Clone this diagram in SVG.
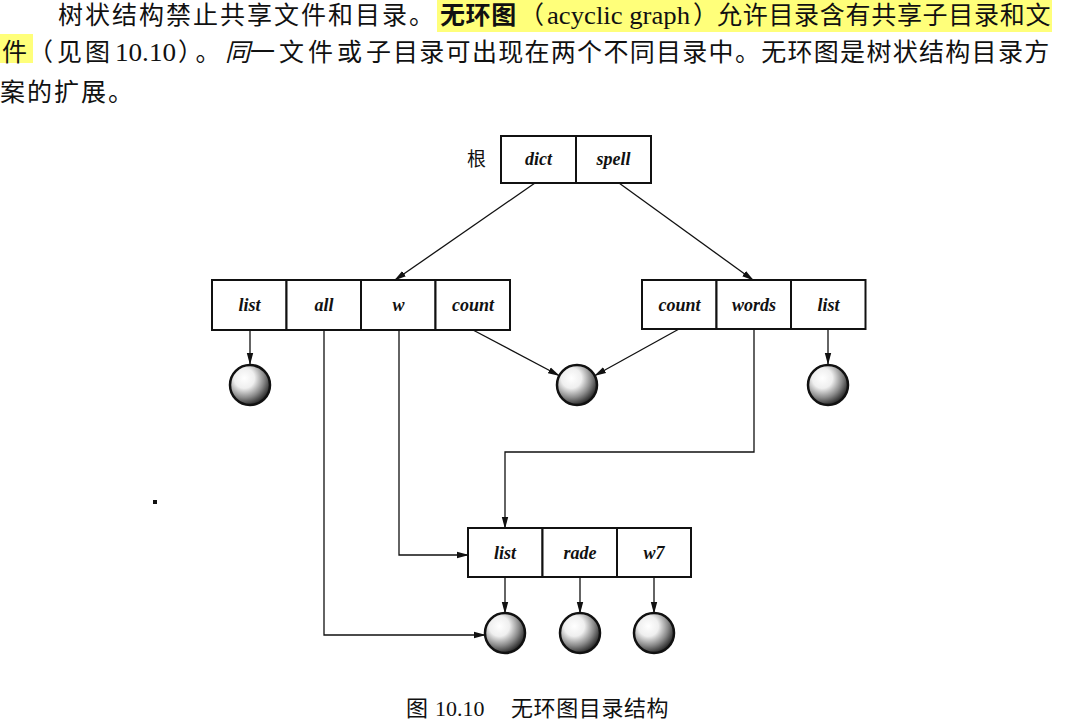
<svg xmlns="http://www.w3.org/2000/svg" width="1090" height="727" viewBox="0 0 1090 727">
<style>
.cjk{font-family:"Noto Sans CJK SC","Noto Sans",sans-serif;fill:#111}
.p{font-size:25px}
.ser{font-family:"Liberation Serif","Noto Sans CJK SC",serif;fill:#111}
.cell{fill:#fff;stroke:#111;stroke-width:2}
.lbl{font-family:"Liberation Serif",serif;font-style:italic;font-weight:bold;font-size:18px;text-anchor:middle;fill:#111}
.ln{fill:none;stroke:#111;stroke-width:1.3}
.ball{fill:url(#sph);stroke:#111;stroke-width:2.5}
.hl{fill:#ffff7a}
</style>
<defs>
<radialGradient id="sph" cx="0.36" cy="0.33" r="0.72">
<stop offset="0" stop-color="#ffffff"/>
<stop offset="0.35" stop-color="#efefef"/>
<stop offset="0.68" stop-color="#8a8a8a"/>
<stop offset="1" stop-color="#1a1a1a"/>
</radialGradient>
<marker id="ah" markerUnits="userSpaceOnUse" markerWidth="12" markerHeight="8" refX="11" refY="4" orient="auto">
<path d="M0,0.8 L12,4 L0,7.2 Z" fill="#111"/>
</marker>
</defs>
<rect width="1090" height="727" fill="#fff"/>

<g id="paragraph">
<rect class="hl" x="437" y="0" width="615" height="32"/>
<rect class="hl" x="0" y="34" width="33" height="29"/>
<text class="cjk p" x="58" y="24" letter-spacing="2">树状结构禁止共享文件和目录。</text>
<text class="cjk p" x="440" y="24" letter-spacing="0.6" font-weight="bold">无环图</text>
<text class="cjk p" x="519" y="24">（</text>
<text class="ser" x="547" y="24" font-size="26" textLength="143" lengthAdjust="spacingAndGlyphs">acyclic graph</text>
<text class="cjk p" x="693" y="24">）</text>
<text class="cjk p" x="717" y="24" letter-spacing="0.7">允许目录含有共享子目录和文</text>

<text class="cjk p" x="2" y="61">件</text>
<text class="cjk p" x="28" y="61">（</text>
<text class="cjk p" x="57" y="61" letter-spacing="3">见图</text>
<text class="ser" x="115" y="61" font-size="26" textLength="61" lengthAdjust="spacingAndGlyphs">10.10</text>
<text class="cjk p" x="178" y="61" letter-spacing="5">）。</text>
<text class="cjk p" x="225" y="61" font-style="italic">同</text>
<text class="cjk p" x="250" y="61" letter-spacing="4">一文件或子</text>
<text class="cjk p" x="393" y="61" letter-spacing="1.3">目录可出现在两个不同目录中。无环图是树状结构目录方</text>

<text class="cjk p" x="0" y="101" letter-spacing="2">案的扩展。</text>
</g>

<g id="root">
<text class="cjk" x="467" y="166" font-size="19">根</text>
<rect class="cell" x="501" y="136" width="75" height="47"/>
<rect class="cell" x="576" y="136" width="75" height="47"/>
<text class="lbl" x="538.5" y="165">dict</text>
<text class="lbl" x="613.5" y="165">spell</text>
</g>

<g id="dict">
<rect class="cell" x="212" y="280" width="74.5" height="50"/>
<rect class="cell" x="286.5" y="280" width="74.5" height="50"/>
<rect class="cell" x="361" y="280" width="74.5" height="50"/>
<rect class="cell" x="435.5" y="280" width="74.5" height="50"/>
<text class="lbl" x="249.5" y="311">list</text>
<text class="lbl" x="324" y="311">all</text>
<text class="lbl" x="398.5" y="311">w</text>
<text class="lbl" x="473" y="311">count</text>
</g>

<g id="spell">
<rect class="cell" x="642" y="280" width="74.5" height="49"/>
<rect class="cell" x="716.5" y="280" width="74.5" height="49"/>
<rect class="cell" x="791" y="280" width="74.5" height="49"/>
<text class="lbl" x="679.5" y="311">count</text>
<text class="lbl" x="754" y="311">words</text>
<text class="lbl" x="828.5" y="311">list</text>
</g>

<g id="shared">
<rect class="cell" x="468" y="528" width="74.5" height="49"/>
<rect class="cell" x="542.5" y="528" width="74.5" height="49"/>
<rect class="cell" x="617" y="528" width="74" height="49"/>
<text class="lbl" x="505" y="559">list</text>
<text class="lbl" x="580" y="559">rade</text>
<text class="lbl" x="654" y="559">w7</text>
</g>

<g id="file-list1"><circle class="ball" cx="250" cy="385" r="20"/></g>
<g id="file-count"><circle class="ball" cx="577" cy="385" r="20"/></g>
<g id="file-list2"><circle class="ball" cx="828" cy="385" r="20"/></g>
<g id="file-list3"><circle class="ball" cx="505" cy="633" r="20"/></g>
<g id="file-rade"><circle class="ball" cx="580" cy="633" r="20"/></g>
<g id="file-w7"><circle class="ball" cx="654" cy="633" r="20"/></g>

<g id="connectors">
<line class="ln" x1="535" y1="183" x2="395" y2="280" marker-end="url(#ah)"/>
<line class="ln" x1="619" y1="183" x2="753" y2="280" marker-end="url(#ah)"/>
<line class="ln" x1="250" y1="330" x2="250" y2="364" marker-end="url(#ah)"/>
<line class="ln" x1="473" y1="330" x2="559" y2="375.5" marker-end="url(#ah)"/>
<line class="ln" x1="679" y1="329" x2="595" y2="375.5" marker-end="url(#ah)"/>
<line class="ln" x1="828" y1="329" x2="828" y2="364" marker-end="url(#ah)"/>
<polyline class="ln" points="754,329 754,452 505,452 505,528" marker-end="url(#ah)"/>
<polyline class="ln" points="399,330 399,555 468,555" marker-end="url(#ah)"/>
<polyline class="ln" points="324,330 324,635 485,635" marker-end="url(#ah)"/>
<line class="ln" x1="505" y1="577" x2="505" y2="613" marker-end="url(#ah)"/>
<line class="ln" x1="580" y1="577" x2="580" y2="613" marker-end="url(#ah)"/>
<line class="ln" x1="654" y1="577" x2="654" y2="613" marker-end="url(#ah)"/>
</g>

<rect x="153" y="500" width="4" height="4" fill="#111"/>

<g id="caption">
<text class="cjk" x="406" y="716" font-size="22">图</text>
<text class="ser" x="435" y="716" font-size="22">10.10</text>
<text class="cjk" x="511" y="716" font-size="22" letter-spacing="0.6">无环图目录结构</text>
</g>
</svg>
